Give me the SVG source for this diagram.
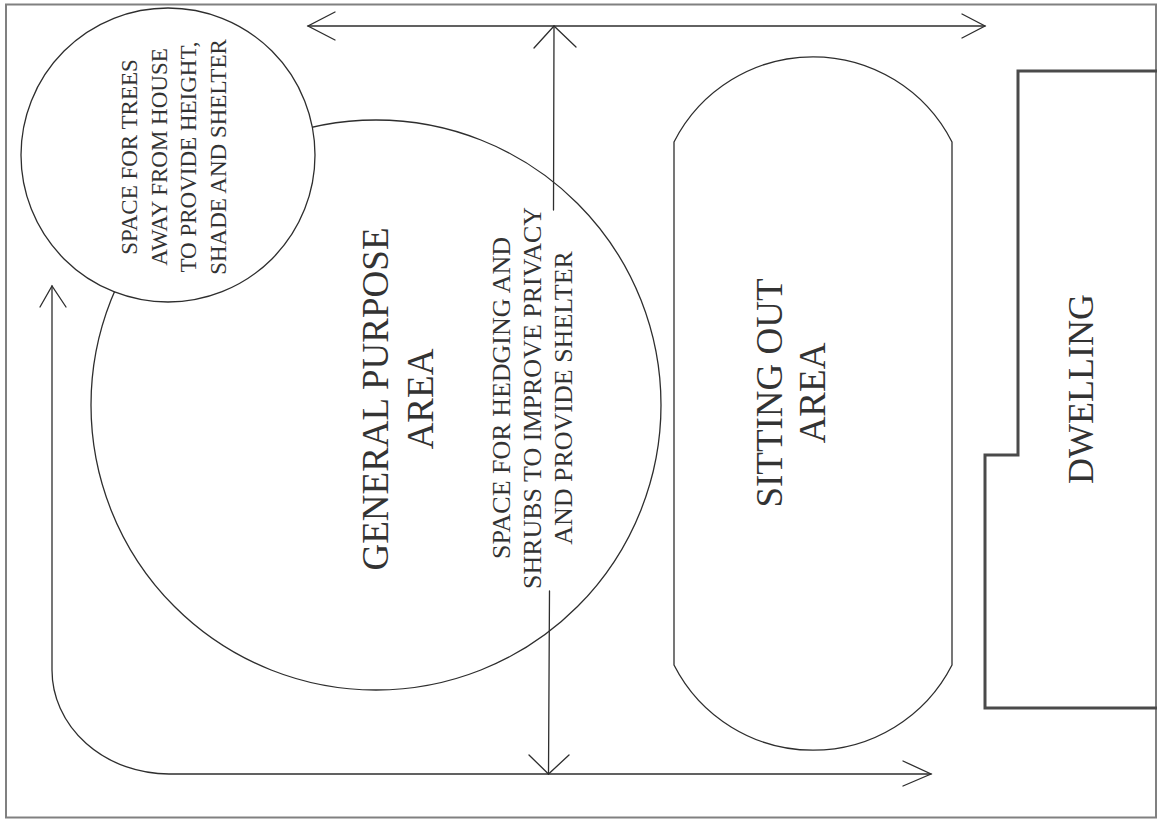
<svg xmlns="http://www.w3.org/2000/svg" width="1159" height="821" viewBox="0 0 1159 821">
<style>
.ln{fill:none;stroke:#2e2e2e;stroke-width:1.3;stroke-linecap:round;stroke-linejoin:miter}
.wf{fill:#fff;stroke:#2e2e2e;stroke-width:1.3}
.t{font-family:'Liberation Serif','DejaVu Serif',serif;fill:#333;text-anchor:middle}
</style>
<rect x="0" y="0" width="1159" height="821" fill="#fff"/>
<rect id="frame" x="6" y="4.5" width="1150" height="813" fill="none" stroke="#808080" stroke-width="2"/>
<g id="general-purpose-area" font-family="Liberation Serif, DejaVu Serif, serif">
<circle class="ln" cx="376" cy="405" r="285"/>
<text class="t" font-size="37" transform="translate(388,399) rotate(-90)">GENERAL PURPOSE</text>
<text class="t" font-size="37" transform="translate(433,399) rotate(-90)">AREA</text>
</g>
<g id="trees-space" font-family="Liberation Serif, DejaVu Serif, serif">
<circle class="wf" cx="168" cy="155" r="147"/>
<text class="t" font-size="23" transform="translate(137,157) rotate(-90)">SPACE FOR TREES</text>
<text class="t" font-size="23" transform="translate(167,157) rotate(-90)">AWAY FROM HOUSE</text>
<text class="t" font-size="23" transform="translate(196,157) rotate(-90)">TO PROVIDE HEIGHT,</text>
<text class="t" font-size="23" transform="translate(226,157) rotate(-90)">SHADE AND SHELTER</text>
</g>
<g id="hedging-label" font-family="Liberation Serif, DejaVu Serif, serif">
<text class="t" font-size="26" transform="translate(510,398) rotate(-90)">SPACE FOR HEDGING AND</text>
<text class="t" font-size="26" transform="translate(541,398) rotate(-90)">SHRUBS TO IMPROVE PRIVACY</text>
<text class="t" font-size="26" transform="translate(572,398) rotate(-90)">AND PROVIDE SHELTER</text>
</g>
<g id="sitting-out-area" font-family="Liberation Serif, DejaVu Serif, serif">
<path class="ln" d="M674,142 A156,156 0 0 1 952,142 L952,665 A156,156 0 0 1 674,665 Z"/>
<text class="t" font-size="37" transform="translate(782,393) rotate(-90)">SITTING OUT</text>
<text class="t" font-size="37" transform="translate(825,393) rotate(-90)">AREA</text>
</g>
<g id="dwelling" font-family="Liberation Serif, DejaVu Serif, serif">
<path d="M1157,71 L1018,71 L1018,455 L985,455 L985,708 L1157,708" fill="none" stroke="#4a4a4a" stroke-width="3"/>
<text class="t" font-size="36" transform="translate(1093,389) rotate(-90)">DWELLING</text>
</g>
<g id="connectors">
<line class="ln" x1="308" y1="26" x2="985" y2="26"/>
<polyline class="ln" points="335,12 308,26 335,40"/>
<polyline class="ln" points="962,14 985,26 962,38"/>
<line class="ln" x1="554" y1="26" x2="553.5" y2="210"/>
<line class="ln" x1="549.5" y1="591" x2="548.5" y2="774"/>
<polyline class="ln" points="534,48 554,26 576,47"/>
<polyline class="ln" points="529,755 548.5,774 569,755"/>
<path class="ln" d="M52,286 L52,670 A117,104 0 0 0 169,774 L931,774"/>
<polyline class="ln" points="40,307 52,286 66,307"/>
<polyline class="ln" points="903,761 931,774 903,786"/>
</g>
</svg>
